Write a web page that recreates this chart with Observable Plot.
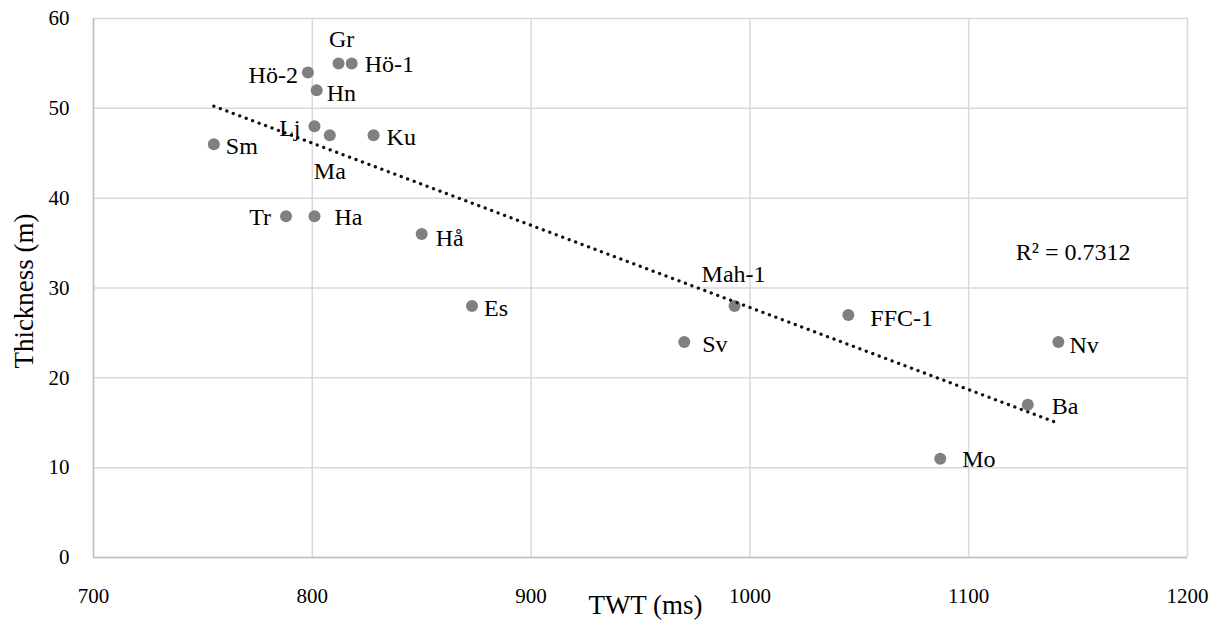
<!DOCTYPE html>
<html>
<head>
<meta charset="utf-8">
<script src="https://cdn.jsdelivr.net/npm/d3@7"></script>
<script src="https://cdn.jsdelivr.net/npm/@observablehq/plot@0.6"></script>
<style>
  html, body { margin: 0; padding: 0; background: #fff; }
  #chart { width: 1219px; height: 620px; }
</style>
</head>
<body>
<div id="chart"></div>
<script>
// ---- Data ----
const names     = ["Sm","Tr","Ha","Hö-2","Gr","Hö-1","Hn","Lj","Ma","Ku","Hå","Es","Sv","Mah-1","FFC-1","Mo","Ba","Nv"];
const twt       = [755, 788, 801, 798, 812, 818, 802, 801, 808, 828, 850, 873, 970, 993, 1045, 1087, 1127, 1141];
const thickness = [46,  38,  38,  54,  55,  55,  52,  48,  47,  47,  36,  28,  24,  28,  27,   11,   17,   24];
const xTicks = [700, 800, 900, 1000, 1100, 1200];
const yTicks = [0, 10, 20, 30, 40, 50, 60];
const r2Text = "R² = 0.7312";
const xTitle = "TWT (ms)";
const yTitle = "Thickness (m)";

// ---- Label placement (pixel offsets, style only) ----
const labelPlacement = {
  "Sm":    {dx: 12,  dy: 2,   anchor: "start"},
  "Tr":    {dx: -15, dy: 1,   anchor: "end"},
  "Ha":    {dx: 20,  dy: 1,   anchor: "start"},
  "Hö-2":  {dx: -10, dy: 3,   anchor: "end"},
  "Gr":    {dx: 3,   dy: -24, anchor: "middle"},
  "Hö-1":  {dx: 13,  dy: 1,   anchor: "start"},
  "Hn":    {dx: 10,  dy: 3,   anchor: "start"},
  "Lj":    {dx: -14, dy: 2,   anchor: "end"},
  "Ma":    {dx: 0,   dy: 36,  anchor: "middle"},
  "Ku":    {dx: 13,  dy: 2,   anchor: "start"},
  "Hå":    {dx: 14,  dy: 4,   anchor: "start"},
  "Es":    {dx: 12,  dy: 2,   anchor: "start"},
  "Sv":    {dx: 18,  dy: 2,   anchor: "start"},
  "Mah-1": {dx: -1,  dy: -32, anchor: "middle"},
  "FFC-1": {dx: 22,  dy: 3,   anchor: "start"},
  "Mo":    {dx: 22,  dy: 1,   anchor: "start"},
  "Ba":    {dx: 24,  dy: 2,   anchor: "start"},
  "Nv":    {dx: 11,  dy: 3,   anchor: "start"}
};

const data = names.map((n, i) => ({name: n, twt: twt[i], thickness: thickness[i]}));

const font = "'Liberation Serif', 'Times New Roman', serif";

const labelMarks = data.map(d => {
  const p = labelPlacement[d.name];
  return Plot.text([d], {
    x: "twt", y: "thickness", text: "name",
    dx: p.dx, dy: p.dy, textAnchor: p.anchor,
    fontSize: 24, fill: "#000"
  });
});

const chart = Plot.plot({
  width: 1219,
  height: 620,
  marginLeft: 93,
  marginRight: 32,
  marginTop: 18,
  marginBottom: 63,
  style: {fontFamily: font, fontSize: "21px", background: "#fff", color: "#000"},
  x: {domain: [xTicks[0], xTicks[xTicks.length - 1]]},
  y: {domain: [yTicks[0], yTicks[yTicks.length - 1]]},
  marks: [
    Plot.gridX(xTicks, {stroke: "#d9d9d9", strokeOpacity: 1, strokeWidth: 1.5}),
    Plot.gridY(yTicks, {stroke: "#d9d9d9", strokeOpacity: 1, strokeWidth: 1.5}),
    Plot.ruleX([xTicks[0]], {stroke: "#bfbfbf", strokeWidth: 1.5}),
    Plot.ruleY([yTicks[0]], {stroke: "#bfbfbf", strokeWidth: 1.5}),
    Plot.axisX(xTicks, {tickSize: 0, tickPadding: 31, fontSize: 21, label: null, fill: "#000", tickFormat: d => String(d)}),
    Plot.axisY(yTicks, {tickSize: 0, tickPadding: 24, fontSize: 21, label: null, fill: "#000", tickFormat: d => String(d)}),
    Plot.dot(data, {x: "twt", y: "thickness", r: 6, fill: "#808080", stroke: "none"}),
    Plot.linearRegressionY(data, {
      x: "twt", y: "thickness", ci: 0,
      stroke: "#111", strokeWidth: 3.3,
      strokeDasharray: "0.1,6.8", strokeLinecap: "round"
    }),
    ...labelMarks,
    Plot.text([r2Text], {
      frameAnchor: "top-right", text: d => d, textAnchor: "end",
      dx: -57, dy: 224, fontSize: 24, fill: "#000"
    }),
    Plot.text([xTitle], {
      frameAnchor: "bottom", text: d => d, textAnchor: "middle",
      dx: 5, dy: 56, fontSize: 27, fill: "#000"
    }),
    Plot.text([yTitle], {
      frameAnchor: "left", text: d => d, rotate: -90, textAnchor: "middle",
      dx: -69, dy: 3, fontSize: 27, fill: "#000"
    })
  ]
});

document.getElementById("chart").appendChild(chart);
</script>
</body>
</html>
